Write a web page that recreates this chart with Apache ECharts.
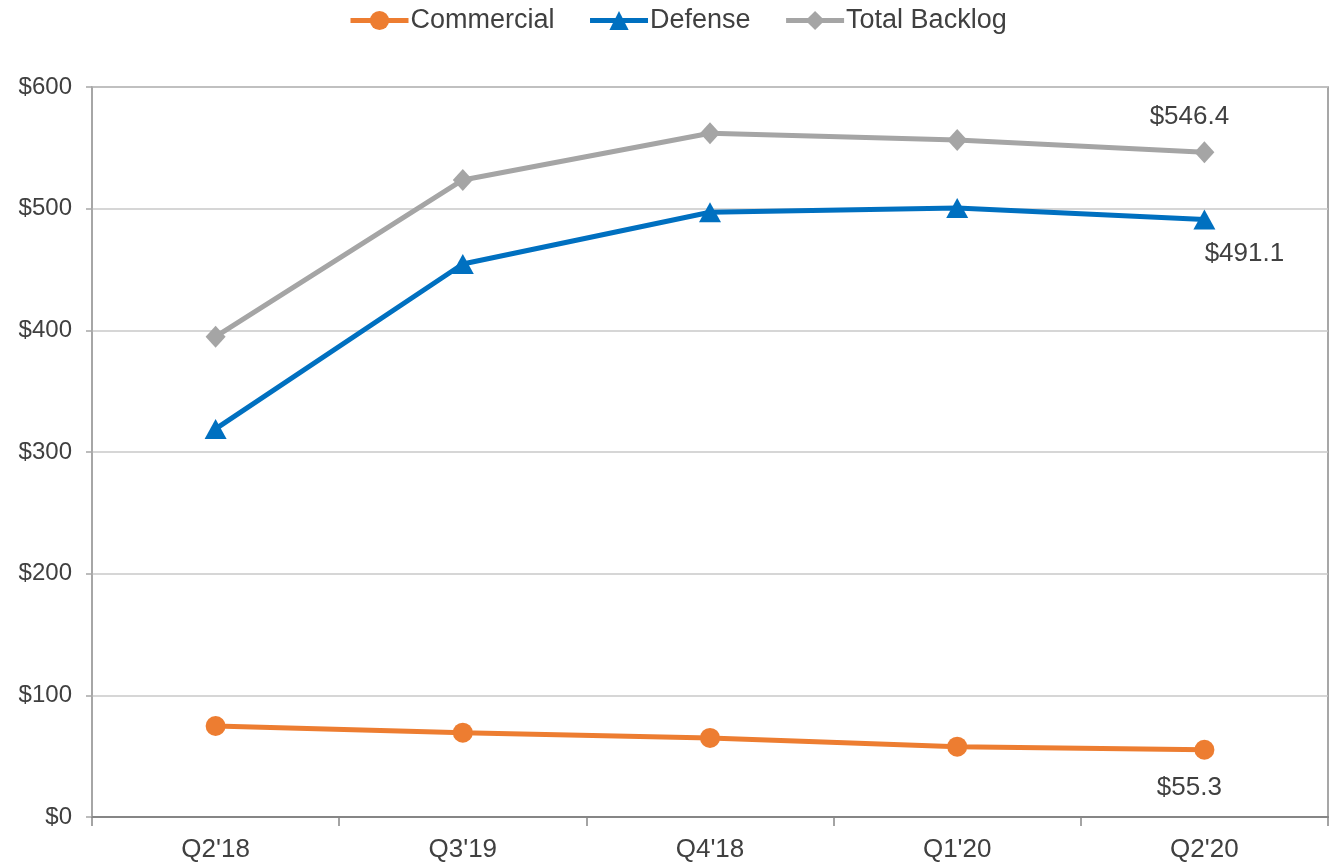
<!DOCTYPE html>
<html>
<head>
<meta charset="utf-8">
<script src="https://cdn.jsdelivr.net/npm/echarts@6/dist/echarts.min.js"></script>
<style>
html,body{margin:0;padding:0;background:#fff;}
#chart{width:1332px;height:863px;}
</style>
</head>
<body>
<div id="chart"></div>
<script>
var categories = ["Q2'18", "Q3'19", "Q4'18", "Q1'20", "Q2'20"];
var commercial = [74.8, 69.3, 65.0, 57.8, 55.3];
var defense = [319.0, 454.5, 497.0, 500.5, 491.1];
var totalBacklog = [394.8, 523.6, 562.0, 556.4, 546.4];
var yTicks = [0, 100, 200, 300, 400, 500, 600];

var textColor = '#404040';
var font = '"Liberation Sans", Arial, sans-serif';

function lastLabel(values, offset) {
  return values.map(function (v, i) {
    if (i !== values.length - 1) return v;
    return {
      value: v,
      label: {
        show: true,
        position: 'inside',
        offset: offset,
        formatter: function (p) { return '$' + p.value.toFixed(1); },
        color: textColor,
        fontSize: 26,
        fontFamily: font
      }
    };
  });
}

var chart = echarts.init(document.getElementById('chart'), null, {renderer: 'canvas'});
chart.setOption({
  animation: false,
  backgroundColor: '#fff',
  textStyle: {fontFamily: font},
  legend: {
    top: 2,
    left: 343,
    itemWidth: 58,
    itemHeight: 24,
    itemGap: 33,
    lineStyle: {width: 5},
    textStyle: {color: textColor, fontSize: 27, fontFamily: font, padding: [0, 0, 0, -3]},
    data: ['Commercial', 'Defense', 'Total Backlog']
  },
  grid: {
    left: 92, right: 4, top: 87, bottom: 46,
    show: true,
    borderColor: '#8a8a8a',
    borderWidth: 1.5,
    containLabel: false
  },
  xAxis: {
    type: 'category',
    data: categories,
    boundaryGap: true,
    axisLine: {show: true, lineStyle: {color: '#868686', width: 2}},
    axisTick: {show: true, length: 9, lineStyle: {color: '#868686', width: 1.5}},
    axisLabel: {color: textColor, fontSize: 26, fontFamily: font, margin: 20}
  },
  yAxis: {
    type: 'value',
    min: yTicks[0],
    max: yTicks[yTicks.length - 1],
    interval: 100,
    axisLine: {show: true, lineStyle: {color: '#a6a6a6', width: 1.5}},
    axisTick: {show: true, length: 6, lineStyle: {color: '#a6a6a6', width: 1.5}},
    axisLabel: {
      color: textColor, fontSize: 24, fontFamily: font, margin: 20,
      formatter: function (v) { return '$' + v; }
    },
    splitLine: {show: true, lineStyle: {color: '#c8c8c8', width: 1.5}}
  },
  series: [
    {
      name: 'Commercial',
      type: 'line',
      data: lastLabel(commercial, [-15, 38]),
      symbol: 'circle',
      symbolSize: 20,
      lineStyle: {color: '#ED7D31', width: 5},
      itemStyle: {color: '#ED7D31'},
      z: 3
    },
    {
      name: 'Defense',
      type: 'line',
      data: lastLabel(defense, [40, 34]),
      symbol: 'triangle',
      symbolSize: [22, 20],
      lineStyle: {color: '#0070C0', width: 5},
      itemStyle: {color: '#0070C0'},
      z: 3
    },
    {
      name: 'Total Backlog',
      type: 'line',
      data: lastLabel(totalBacklog, [-15, -35]),
      symbol: 'diamond',
      symbolSize: [20, 22],
      lineStyle: {color: '#A5A5A5', width: 5},
      itemStyle: {color: '#A5A5A5'},
      z: 3
    }
  ]
});
</script>
</body>
</html>
